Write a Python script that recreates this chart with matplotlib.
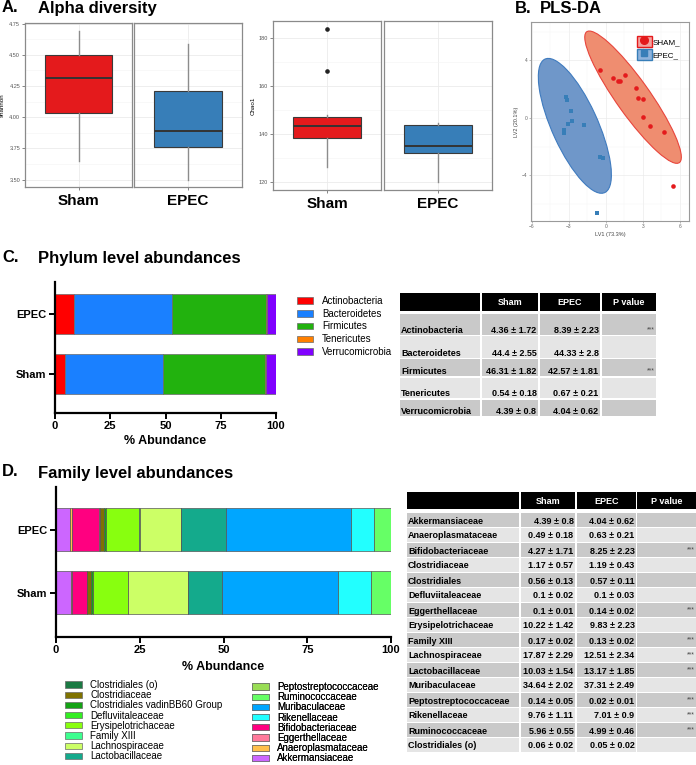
import numpy as np
import matplotlib.pyplot as plt
from matplotlib.patches import Patch, Rectangle, Ellipse
from matplotlib.lines import Line2D

plt.rcParams['font.family'] = ['Liberation Sans', 'DejaVu Sans']

# ---------------- data ----------------
groups = ['Sham', 'EPEC']
group_colors = ['#e41a1c', '#377eb8']

# alpha diversity box summaries (Sham, EPEC)
shannon_q1 = [4.03, 3.76]
shannon_med = [4.31, 3.89]
shannon_q3 = [4.50, 4.21]
shannon_lo = [3.65, 3.50]
shannon_hi = [4.69, 4.59]
shannon_out = [[], []]

chao1_q1 = [138.3, 132.1]
chao1_med = [143.6, 135.2]
chao1_q3 = [147.3, 143.8]
chao1_lo = [126.3, 120.1]
chao1_hi = [148.0, 144.7]
chao1_out = [[184.0, 166.3], []]

# PLS-DA scores
sham_lv1 = [-0.43, 0.59, 0.96, 1.15, 1.55, 2.44, 2.63, 3.05, 3.00, 3.56, 4.74, 5.46]
sham_lv2 = [3.36, 2.74, 2.58, 2.55, 2.95, 2.06, 1.37, 1.30, 0.09, -0.56, -1.00, -4.73]
epec_lv1 = [-3.24, -3.13, -2.79, -2.76, -3.03, -3.40, -3.38, -1.79, -0.46, -0.19, -0.72]
epec_lv2 = [1.42, 1.21, 0.51, -0.23, -0.44, -0.84, -1.09, -0.51, -2.74, -2.83, -6.61]

# phylum level
phyla = ['Actinobacteria', 'Bacteroidetes', 'Firmicutes', 'Tenericutes', 'Verrucomicrobia']
phylum_colors = ['#ff0000', '#1a80ff', '#22b20e', '#ff8000', '#8000ff']
phy_sham_mean = [4.36, 44.4, 46.31, 0.54, 4.39]
phy_sham_sd = [1.72, 2.55, 1.82, 0.18, 0.8]
phy_epec_mean = [8.39, 44.33, 42.57, 0.67, 4.04]
phy_epec_sd = [2.23, 2.8, 1.81, 0.21, 0.62]
phy_pval = ['***', '', '***', '', '']

# family level
fam_names = ['Akkermansiaceae', 'Anaeroplasmataceae', 'Bifidobacteriaceae', 'Clostridiaceae',
             'Clostridiales', 'Defluviitaleaceae', 'Eggerthellaceae', 'Erysipelotrichaceae',
             'Family XIII', 'Lachnospiraceae', 'Lactobacillaceae', 'Muribaculaceae',
             'Peptostreptococcaceae', 'Rikenellaceae', 'Ruminococcaceae', 'Clostridiales (o)']
fam_sham_mean = [4.39, 0.49, 4.27, 1.17, 0.56, 0.1, 0.1, 10.22, 0.17, 17.87, 10.03, 34.64, 0.14, 9.76, 5.96, 0.06]
fam_sham_sd = [0.8, 0.18, 1.71, 0.57, 0.13, 0.02, 0.01, 1.42, 0.02, 2.29, 1.54, 2.02, 0.05, 1.11, 0.55, 0.02]
fam_epec_mean = [4.04, 0.63, 8.25, 1.19, 0.57, 0.1, 0.14, 9.83, 0.13, 12.51, 13.17, 37.31, 0.02, 7.01, 4.99, 0.05]
fam_epec_sd = [0.62, 0.21, 2.23, 0.43, 0.11, 0.03, 0.02, 2.23, 0.02, 2.34, 1.85, 2.49, 0.01, 0.9, 0.46, 0.02]
fam_pval = ['', '', '***', '', '', '', '***', '', '***', '***', '***', '', '***', '***', '***', '']
fam_legend_names = list(fam_names)
fam_legend_names[4] = 'Clostridiales vadinBB60 Group'
fam_colors = ['#cc66ff', '#ffc04d', '#ff0080', '#7f7300', '#14a314', '#33ee22', '#ff7a9c', '#88ff0f',
              '#3dff8f', '#ccff66', '#14aa8c', '#00a6ff', '#99dd55', '#22ffff', '#66ff66', '#1b7a43']
fam_stack = [0, 1, 2, 6, 3, 4, 15, 5, 7, 8, 9, 12, 10, 11, 13, 14]
fam_legend_col1 = [15, 3, 4, 5, 7, 8, 9, 10]
fam_legend_col2 = [12, 14, 11, 13, 2, 6, 1, 0]

# ---------------- layout helpers ----------------
W, H = 696, 765
fig = plt.figure(figsize=(W / 100, H / 100), dpi=100)


def px_axes(x0, y0, x1, y1):
    return fig.add_axes([x0 / W, 1 - y1 / H, (x1 - x0) / W, (y1 - y0) / H])


def fx(x):
    return x / W


def fy(y):
    return 1 - y / H


canvas = fig.add_axes([0, 0, 1, 1])
canvas.set_xlim(0, W)
canvas.set_ylim(H, 0)
canvas.axis('off')

# panel titles
for x, y, s in [(2, 12, 'A.'), (38, 12.5, 'Alpha diversity'), (515, 13, 'B.'), (540, 13, 'PLS-DA'),
                (2, 262, 'C.'), (38, 263, 'Phylum level abundances'),
                (2, 476, 'D.'), (38, 478, 'Family level abundances')]:
    canvas.text(x, y, s, fontsize=12, fontweight='bold', va='baseline', ha='left')


# ---------------- A: alpha diversity ----------------
def box_facets(x_edges, y0, y1, q1, med, q3, lo, hi, out, ylim, yticks, ylabels, minor, ylabel, ylabel_x):
    for i in range(2):
        ax = px_axes(x_edges[i][0], y0, x_edges[i][1], y1)
        stats = [dict(med=med[i], q1=q1[i], q3=q3[i], whislo=lo[i], whishi=hi[i], fliers=out[i])]
        ax.bxp(stats, positions=[1], widths=0.75, patch_artist=True, showcaps=False,
               boxprops=dict(facecolor=group_colors[i], edgecolor='#3a3a3a', linewidth=0.8),
               medianprops=dict(color='#333333', linewidth=1.4),
               whiskerprops=dict(color='#8c8c8c', linewidth=1.0),
               flierprops=dict(marker='o', markerfacecolor='#222222', markeredgecolor='#222222', markersize=2.3))
        ax.set_xlim(0.4, 1.6)
        ax.set_ylim(ylim)
        ax.set_yticks(yticks)
        ax.set_yticks(minor, minor=True)
        ax.grid(True, which='major', color='#ebebeb', linewidth=0.6)
        ax.grid(True, which='minor', axis='y', color='#f4f4f4', linewidth=0.4)
        ax.set_axisbelow(True)
        ax.set_xticks([1])
        ax.set_xticklabels([groups[i]], fontsize=11, fontweight='bold')
        ax.tick_params(axis='x', length=2, width=0.5, color='#555555', pad=3)
        ax.tick_params(axis='y', which='minor', length=0)
        if i == 0:
            ax.set_yticklabels(ylabels)
            ax.tick_params(axis='y', labelsize=4, labelcolor='#555555', length=2, width=0.5,
                           color='#555555', pad=1.5)
            ax.set_ylabel(ylabel, fontsize=4.5)
            ax.yaxis.set_label_coords(ylabel_x, 0.5)
        else:
            ax.tick_params(axis='y', labelleft=False, left=False)
        for sp in ax.spines.values():
            sp.set_color('#8a8a8a')
            sp.set_linewidth(0.9)


box_facets([(25, 132), (134, 242)], 23, 187, shannon_q1, shannon_med, shannon_q3, shannon_lo,
           shannon_hi, shannon_out, (3.44, 4.755), [3.5, 3.75, 4.0, 4.25, 4.5, 4.75],
           ['3.50', '3.75', '4.00', '4.25', '4.50', '4.75'],
           [3.625, 3.875, 4.125, 4.375, 4.625], 'shannon', -0.19)
box_facets([(273, 381), (384, 492)], 21, 190, chao1_q1, chao1_med, chao1_q3, chao1_lo,
           chao1_hi, chao1_out, (116.8, 187.2), [120, 140, 160, 180],
           ['120', '140', '160', '180'], [130, 150, 170], 'Chao1', -0.16)

# ---------------- B: PLS-DA ----------------
ax_b = px_axes(531, 22, 689, 221)


def cov_trob(x, y, nu=5, maxit=25, tol=0.01):
    # robust multivariate t estimate (as used by ggplot's stat_ellipse)
    X0 = np.column_stack([x, y])
    n, p = X0.shape
    loc = X0.mean(axis=0)
    w = np.ones(n)
    for _ in range(maxit):
        w0 = w
        X = X0 - loc
        _, d, vt = np.linalg.svd(np.sqrt(w / w.sum())[:, None] * X, full_matrices=False)
        wX = X @ vt.T @ np.diag(1 / d)
        Q = (wX ** 2).sum(axis=1)
        w = (nu + p) / (nu + Q)
        loc = (w[:, None] * X0).sum(axis=0) / w.sum()
        if np.all(np.abs(w - w0) < tol):
            break
    Xw = np.sqrt(w)[:, None] * X
    return loc, Xw.T @ Xw / n


def conf_ellipse(ax, x, y, fc, ec, level=0.95):
    loc, cov = cov_trob(x, y)
    dfd = len(x) - 1
    fq = dfd / 2 * ((1 - level) ** (-2 / dfd) - 1)
    radius = np.sqrt(2 * fq)
    vals, vecs = np.linalg.eigh(cov)
    order = vals.argsort()[::-1]
    vals, vecs = vals[order], vecs[:, order]
    angle = np.degrees(np.arctan2(vecs[1, 0], vecs[0, 0]))
    w, h = 2 * radius * np.sqrt(vals)
    ax.add_patch(Ellipse(loc, w, h, angle=angle, facecolor=fc, edgecolor=ec, linewidth=0.8, zorder=2))


conf_ellipse(ax_b, sham_lv1, sham_lv2, '#ef8d70', '#e8453c')
conf_ellipse(ax_b, epec_lv1, epec_lv2, '#6f97c9', '#3f7bbf')
ax_b.scatter(sham_lv1, sham_lv2, s=11, marker='o', color='#e41a1c', zorder=3, linewidths=0)
ax_b.scatter(epec_lv1, epec_lv2, s=10, marker='s', color='#377eb8', zorder=3, linewidths=0)
ax_b.set_xlim(-6.05, 6.75)
ax_b.set_ylim(-7.18, 6.67)
ax_b.set_xticks([-6, -3, 0, 3, 6])
ax_b.set_xticks([-4.5, -1.5, 1.5, 4.5], minor=True)
ax_b.set_yticks([-4, 0, 4])
ax_b.set_yticks([-6, -2, 2, 6], minor=True)
ax_b.grid(True, which='major', color='#ebebeb', linewidth=0.5)
ax_b.grid(True, which='minor', color='#f5f5f5', linewidth=0.3)
ax_b.set_axisbelow(True)
ax_b.tick_params(which='both', labelsize=3.5, labelcolor='#666666', length=1.5, width=0.4,
                 color='#888888', pad=1)
ax_b.tick_params(which='minor', length=0)
ax_b.set_xlabel('LV1 (73.3%)', fontsize=4, color='#444444', labelpad=2)
ax_b.set_ylabel('LV2 (20.1%)', fontsize=4, color='#444444', labelpad=2)
for sp in ax_b.spines.values():
    sp.set_color('#9a9a9a')
    sp.set_linewidth(0.8)
b_handles = [(Patch(facecolor='#f4a3a0', edgecolor='#e41a1c', linewidth=1.0),
              Line2D([], [], marker='o', ls='', color='#e41a1c', markersize=5.5)),
             (Patch(facecolor='#8fb3dc', edgecolor='#377eb8', linewidth=1.0),
              Line2D([], [], marker='s', ls='', color='#377eb8', markersize=5))]
ax_b.legend(b_handles, ['SHAM_', 'EPEC_'], loc='upper left', bbox_to_anchor=(fx(637), fy(36)),
            bbox_transform=fig.transFigure, frameon=False, fontsize=5.8, handlelength=1.8,
            handleheight=1.8, handletextpad=0.1, labelspacing=0.15, borderpad=0, borderaxespad=0)


# ---------------- stacked bars ----------------
def style_bar_axes(ax, ylim, xlab_pad):
    ax.set_xlim(0, 100)
    ax.set_ylim(ylim)
    ax.set_yticks([0, 1])
    ax.set_yticklabels(groups, fontsize=8, fontweight='bold')
    ax.set_xticks([0, 25, 50, 75, 100])
    ax.set_xticklabels(['0', '25', '50', '75', '100'], fontsize=8, fontweight='bold')
    ax.tick_params(length=4, width=1.4, color='black', pad=2)
    ax.spines['top'].set_visible(False)
    ax.spines['right'].set_visible(False)
    ax.spines['left'].set_linewidth(1.6)
    ax.spines['bottom'].set_linewidth(1.6)
    ax.set_xlabel('% Abundance', fontsize=9, fontweight='bold', labelpad=xlab_pad)


ax_c = px_axes(55, 282, 276, 413)
left = np.zeros(2)
for k in range(len(phyla)):
    vals = np.array([phy_sham_mean[k], phy_epec_mean[k]])
    ax_c.barh([0, 1], vals, left=left, height=0.67, color=phylum_colors[k],
              edgecolor='#6a6a6a', linewidth=0.5)
    left += vals
style_bar_axes(ax_c, (-0.65, 1.53), 3)
c_handles = [Patch(facecolor=c, edgecolor='#6a6a6a', linewidth=0.5) for c in phylum_colors]
ax_c.legend(c_handles, phyla, loc='upper left', bbox_to_anchor=(fx(297), fy(296)),
            bbox_transform=fig.transFigure, frameon=False, fontsize=7, handlelength=1.6,
            handleheight=0.65, handletextpad=1.0, labelspacing=0.28, borderpad=0, borderaxespad=0)

ax_d = px_axes(56, 487, 391, 637)
left = np.zeros(2)
for k in fam_stack:
    vals = np.array([fam_sham_mean[k], fam_epec_mean[k]])
    ax_d.barh([0, 1], vals, left=left, height=0.68, color=fam_colors[k],
              edgecolor='#555555', linewidth=0.5)
    left += vals
style_bar_axes(ax_d, (-0.70, 1.68), 4)
for order, (x0, y0) in [(fam_legend_col1, (65, 680)), (fam_legend_col2, (252, 682))]:
    hs = [Patch(facecolor=fam_colors[k], edgecolor='#6a6a6a', linewidth=0.5) for k in order]
    leg = ax_d.legend(hs, [fam_legend_names[k] for k in order], loc='upper left',
                      bbox_to_anchor=(fx(x0), fy(y0)), bbox_transform=fig.transFigure,
                      frameon=False, fontsize=7, handlelength=1.7, handleheight=0.6,
                      handletextpad=0.9, labelspacing=0.02, borderpad=0, borderaxespad=0)
    ax_d.add_artist(leg)


# ---------------- tables ----------------
def draw_table(cols, head, tops, bots, names, m1, s1, m2, s2, pv, text_dy):
    for (x0, x1), lab in zip(cols, ['', 'Sham', 'EPEC', 'P value']):
        canvas.add_patch(Rectangle((x0, head[0]), x1 - x0, head[1] - head[0], facecolor='black',
                                   edgecolor='none'))
        canvas.text((x0 + x1) / 2, (head[0] + head[1]) / 2 + 0.5, lab, color='white', fontsize=6.5,
                    fontweight='bold', ha='center', va='center')
    for i, name in enumerate(names):
        shade = '#c9c9c9' if i % 2 == 0 else '#e5e5e5'
        for (x0, x1) in cols:
            canvas.add_patch(Rectangle((x0, tops[i]), x1 - x0, bots[i] - tops[i], facecolor=shade,
                                       edgecolor='none'))
        ty = text_dy(tops[i], bots[i])
        canvas.text(cols[0][0] + 1, ty, name, fontsize=6.5, fontweight='bold', ha='left', va='center')
        canvas.text(cols[1][1] - 1.5, ty, f'{m1[i]:g} ± {s1[i]:g}', fontsize=6.5, fontweight='bold',
                    ha='right', va='center')
        canvas.text(cols[2][1] - 1.5, ty, f'{m2[i]:g} ± {s2[i]:g}', fontsize=6.5, fontweight='bold',
                    ha='right', va='center')
        if pv[i]:
            canvas.text(cols[3][1] - 1, ty - 1, pv[i], fontsize=5, color='#444444', ha='right',
                        va='center')


draw_table([(400, 480), (482, 538), (540, 600), (602, 656)], (293, 311),
           [314, 336, 359, 378, 400], [335, 358, 376, 398, 416],
           phyla, phy_sham_mean, phy_sham_sd, phy_epec_mean, phy_epec_sd, phy_pval,
           lambda t, b: b - 4.5)

n = len(fam_names)
fam_tops = [513 + 15 * i for i in range(n)]
fam_bots = [t + 14 for t in fam_tops]
draw_table([(407, 519), (521, 575), (577, 636), (637, 696)], (492, 509), fam_tops, fam_bots,
           fam_names, fam_sham_mean, fam_sham_sd, fam_epec_mean, fam_epec_sd, fam_pval,
           lambda t, b: (t + b) / 2 + 1)

fig.savefig('out.png', dpi=100)
